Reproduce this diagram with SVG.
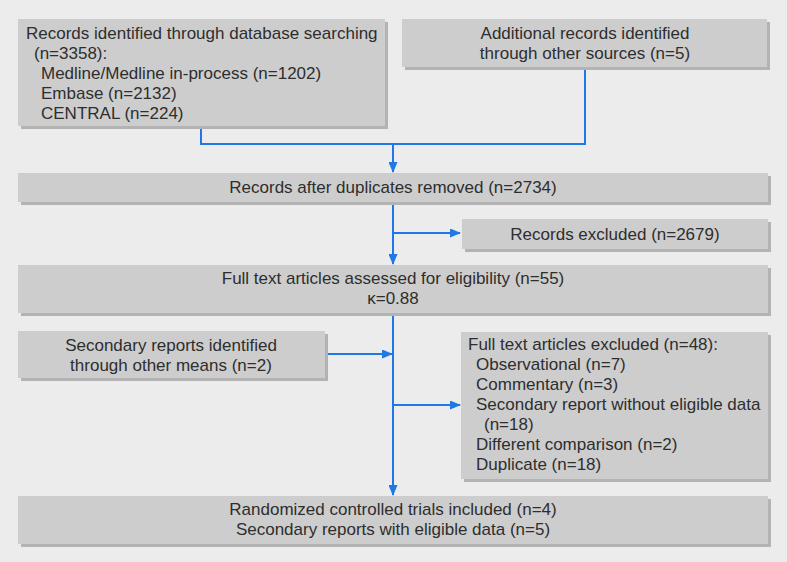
<svg xmlns="http://www.w3.org/2000/svg" width="787" height="562" viewBox="0 0 787 562">
<defs>
<style>
.bg{fill:#ececec}
.sh{fill:#b3b3b3}
.bx{fill:#cdcdcd}
text{font-family:"Liberation Sans",Arial,sans-serif;font-size:17px;fill:#2e2e2e}
.c{text-anchor:middle}
.ln{fill:none;stroke:#1e78e6;stroke-width:2}
</style>
<marker id="ah" markerUnits="userSpaceOnUse" markerWidth="11" markerHeight="9" refX="10" refY="4.5" orient="auto">
<path d="M0,0 L11,4.5 L0,9 z" fill="#1e78e6"/>
</marker>
</defs>
<rect class="bg" x="0" y="0" width="787" height="562"/>

<g id="connectors">
<path class="ln" d="M201,126 V144 H585 V67"/>
<path class="ln" d="M393,144 V172" marker-end="url(#ah)"/>
<path class="ln" d="M393,202 V264" marker-end="url(#ah)"/>
<path class="ln" d="M393,233 H460" marker-end="url(#ah)"/>
<path class="ln" d="M393,313 V495" marker-end="url(#ah)"/>
<path class="ln" d="M325,354 H392" marker-end="url(#ah)"/>
<path class="ln" d="M393,405 H460" marker-end="url(#ah)"/>
</g>

<g id="db-search">
<rect class="sh" x="21" y="22" width="367" height="107"/>
<rect class="bx" x="18" y="19" width="367" height="107"/>
<text x="26" y="39">Records identified through database searching</text>
<text x="34" y="59">(n=3358):</text>
<text x="41" y="79">Medline/Medline in-process (n=1202)</text>
<text x="41" y="99">Embase (n=2132)</text>
<text x="41" y="119">CENTRAL (n=224)</text>
</g>

<g id="other-sources">
<rect class="sh" x="405" y="22" width="365" height="48"/>
<rect class="bx" x="402" y="19" width="365" height="48"/>
<text class="c" x="585" y="39">Additional records identified</text>
<text class="c" x="585" y="59">through other sources (n=5)</text>
</g>

<g id="after-duplicates">
<rect class="sh" x="21" y="176" width="750" height="29"/>
<rect class="bx" x="18" y="173" width="750" height="29"/>
<text class="c" x="393" y="193">Records after duplicates removed (n=2734)</text>
</g>

<g id="records-excluded">
<rect class="sh" x="465" y="222" width="306" height="30"/>
<rect class="bx" x="462" y="219" width="306" height="30"/>
<text class="c" x="615" y="240">Records excluded (n=2679)</text>
</g>

<g id="full-text">
<rect class="sh" x="21" y="268" width="750" height="48"/>
<rect class="bx" x="18" y="265" width="750" height="48"/>
<text class="c" x="393" y="284">Full text articles assessed for eligibility (n=55)</text>
<text class="c" x="393" y="304">κ=0.88</text>
</g>

<g id="secondary-reports">
<rect class="sh" x="21" y="334" width="307" height="47"/>
<rect class="bx" x="18" y="331" width="307" height="47"/>
<text class="c" x="171" y="351">Secondary reports identified</text>
<text class="c" x="171" y="371">through other means (n=2)</text>
</g>

<g id="full-text-excluded">
<rect class="sh" x="464" y="335" width="307" height="147"/>
<rect class="bx" x="461" y="332" width="307" height="147"/>
<text x="468" y="350">Full text articles excluded (n=48):</text>
<text x="476" y="370">Observational (n=7)</text>
<text x="476" y="390">Commentary (n=3)</text>
<text x="476" y="410">Secondary report without eligible data</text>
<text x="484" y="430">(n=18)</text>
<text x="476" y="450">Different comparison (n=2)</text>
<text x="476" y="470">Duplicate (n=18)</text>
</g>

<g id="included">
<rect class="sh" x="21" y="499" width="750" height="48"/>
<rect class="bx" x="18" y="496" width="750" height="48"/>
<text class="c" x="393" y="515">Randomized controlled trials included (n=4)</text>
<text class="c" x="393" y="535">Secondary reports with eligible data (n=5)</text>
</g>
</svg>
